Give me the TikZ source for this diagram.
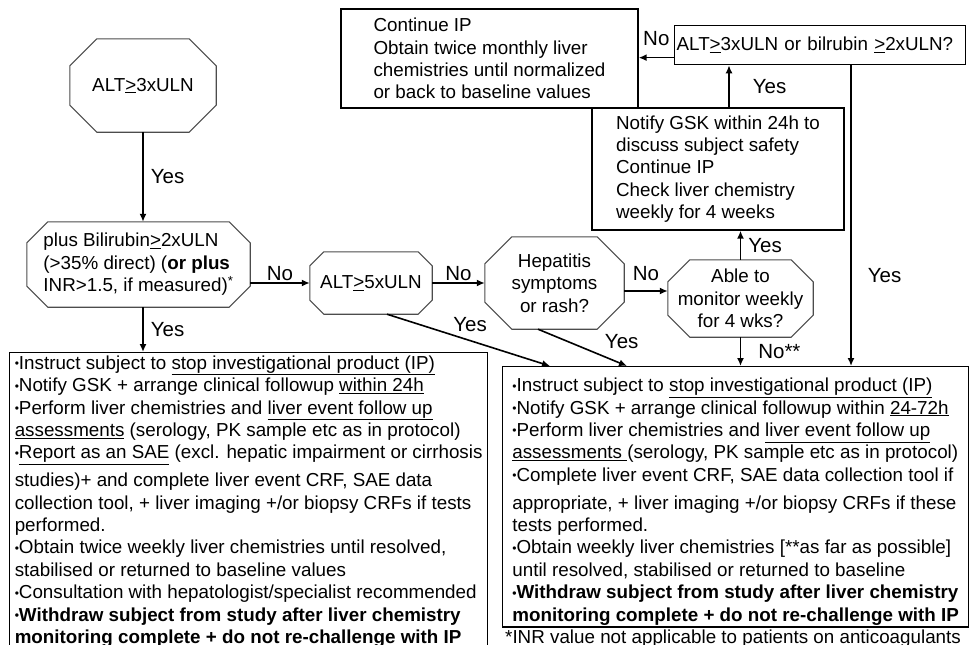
\documentclass[tikz,border=0pt]{standalone}
\usepackage{fontspec}
\setmainfont{Liberation Sans}
\usetikzlibrary{arrows.meta, positioning}
\newcommand{\dotbul}{\raisebox{1.6pt}{\fontsize{12}{0}\selectfont•}}

\begin{document}
\begin{tikzpicture}[
      x=1pt, y=-1pt,
      every node/.style={font=\fontsize{18.8}{22.4}\selectfont},
      decision/.style={rectangle, align=center, inner sep=0pt},
      octline/.style={draw=black!70, line width=1.1pt},
      box/.style={draw, line width=1.3pt, align=left, inner xsep=0pt, inner ysep=3pt},
      arrow/.style={-{Latex[length=8pt, width=7pt]}, line width=1.6pt},
      lbl/.style={font=\fontsize{20.5}{24}\selectfont, inner sep=1pt}
    ]
    \useasboundingbox (0,0) rectangle (969,645);

    % Decisions
    \node[decision, minimum width=146pt, minimum height=93pt] (altThree) at (143,85.5) {ALT\underline{>}3xULN};
    \node[decision, minimum width=223pt, minimum height=85pt, align=left] (bilirubin) at (138.5,264.5) {plus Bilirubin\underline{>}2xULN\\ (>35\% direct) (\textbf{or plus}\\ INR>1.5, if measured)\textsuperscript{*}};
    \node[decision, minimum width=122pt, minimum height=62pt] (altFive) at (371,283) {ALT\underline{>}5xULN};
    \node[decision, minimum width=139pt, minimum height=92pt] (hepatitis) at (554.5,283) {Hepatitis\\ symptoms\\ or rash?};
    \node[decision, minimum width=145pt, minimum height=77pt] (ableMonitor) at (740.5,298.5) {Able to\\ monitor weekly\\ for 4 wks?};

    % Octagon outlines
    \foreach \n/\c in {altThree/27pt, bilirubin/21pt, altFive/14pt, hepatitis/27pt, ableMonitor/22pt}
      \draw[octline] ([xshift=\c]\n.north west) -- ([xshift=-\c]\n.north east) -- ([yshift=-\c]\n.north east)
        -- ([yshift=\c]\n.south east) -- ([xshift=-\c]\n.south east) -- ([xshift=\c]\n.south west)
        -- ([yshift=\c]\n.south west) -- ([yshift=-\c]\n.north west) -- cycle;

    % Upper boxes
    \node[box, minimum width=252pt, minimum height=122pt] (notifyBox) at (718,169) {Notify GSK within 24h to\\ discuss subject safety\\ Continue IP\\ Check liver chemistry\\ weekly for 4 weeks};
    \node[box, minimum width=297pt, minimum height=99pt] (contBox) at (489.5,58.5) {Continue IP\\ Obtain twice monthly liver\\ chemistries until normalized\\ or back to baseline values};
    \node[box, anchor=north west, text width=287pt, inner xsep=2pt, minimum height=39pt] (altBil) at (674,25) {ALT\underline{>}3xULN or bilrubin \underline{>}2xULN?};

    % Action boxes
    \node[box, anchor=north west, minimum width=478pt] (leftBox) at (9,352) {%
      \dotbul Instruct subject to \underline{stop investigational product (IP)}\\
      \dotbul Notify GSK + arrange clinical followup \underline{within 24h}\\
      \dotbul Perform liver chemistries and \underline{liver event follow up}\\
      \underline{assessments} (serology, PK sample etc as in protocol)\\
      \dotbul\underline{Report as an SAE} (excl. hepatic impairment or cirrhosis\\[5.5pt]
      studies)+ and complete liver event CRF, SAE data\\
      collection tool, + liver imaging +/or biopsy CRFs if tests\\
      performed.\\
      \dotbul Obtain twice weekly liver chemistries until resolved,\\
      stabilised or returned to baseline values\\
      \dotbul Consultation with hepatologist/specialist recommended\\
      \textbf{\dotbul Withdraw subject from study after liver chemistry}\\
      \textbf{monitoring complete + do not re-challenge with IP}};
    \node[box, anchor=north west, minimum width=466pt, inner ysep=2pt] (rightBox) at (502,366) {%
      \rule{0pt}{23pt}\dotbul Instruct subject to \underline{stop investigational product (IP)}\\
      \dotbul Notify GSK + arrange clinical followup within \underline{24-72h}\\
      \dotbul Perform liver chemistries and \underline{liver event follow up}\\
      \underline{assessments }(serology, PK sample etc as in protocol)\\
      \dotbul Complete liver event CRF, SAE data collection tool if\\[5.5pt]
      appropriate, + liver imaging +/or biopsy CRFs if these\\
      tests performed.\\
      \dotbul Obtain weekly liver chemistries [**as far as possible]\\
      until resolved, stabilised or returned to baseline\\
      \textbf{\dotbul Withdraw subject from study after liver chemistry}\\
      \textbf{monitoring complete + do not re-challenge with IP}};
    \node[anchor=base west, inner sep=0pt] (footNote) at (505,643) {*INR value not applicable to patients on anticoagulants};

    % Connectors
    \coordinate (hepaOut) at ([yshift=-8pt]hepatitis.east);
    \coordinate (notifyOut) at ([xshift=11pt]notifyBox.north);
    \coordinate (altBilOut) at ([yshift=-12.5pt]altBil.west);
    \coordinate (altBilDown) at ([xshift=177pt]altBil.south west);

    \draw[arrow] (altThree.south) -- node[lbl, right=6pt] {Yes} (altThree.south |- bilirubin.north);
    \draw[arrow] ([xshift=4.5pt]bilirubin.south) -- node[lbl, right=6pt] {Yes} ([xshift=4.5pt]bilirubin.south |- leftBox.north);
    \draw[arrow] (altFive.west -| bilirubin.east) -- node[lbl, above=1pt] {No} (altFive.west);
    \draw[arrow] (altFive) -- node[lbl, above=1pt] {No} (hepatitis);
    \draw[arrow] (hepaOut) -- node[lbl, above=9pt] {No} (hepaOut -| ableMonitor.west);
    \draw[arrow] (ableMonitor.north) -- node[lbl, right=6pt] {Yes} (ableMonitor.north |- notifyBox.south);
    \draw[arrow] (notifyOut) -- node[lbl, right=22pt] {Yes} (notifyOut |- altBil.south);
    \draw[arrow] (altBilOut) -- node[lbl, above=10pt] {No} (altBilOut -| contBox.east);
    \draw[arrow] (altBilDown) -- node[lbl, pos=0.7, right=15pt] {Yes} (altBilDown |- rightBox.north);
    \draw[arrow] (ableMonitor.south) -- node[lbl, right=16pt] {No**} (ableMonitor.south |- rightBox.north);
    \draw[arrow] ([xshift=16pt]altFive.south) -- node[lbl, pos=0.51, above=7pt] {Yes} ([xshift=48pt]rightBox.north west);
    \draw[arrow] ([xshift=-16.5pt]hepatitis.south) -- node[lbl, pos=0.94, above=13pt] {Yes} ([xshift=125pt]rightBox.north west);

\end{tikzpicture}
\end{document}
